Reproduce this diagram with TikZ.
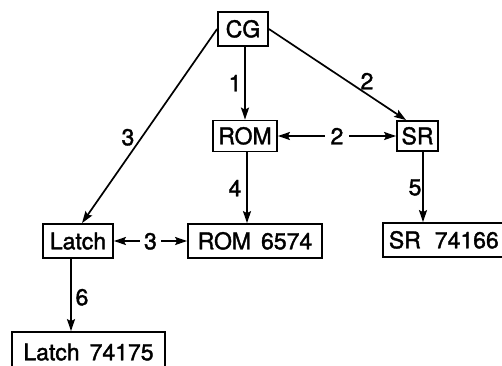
\documentclass[tikz,border=0pt]{standalone}
\usepackage{fontspec}
\setmainfont{TeX Gyre Heros}
\newfontfamily\dfont{TeX Gyre Heros}[UprightFeatures={FakeBold=1.6}]
\usetikzlibrary{arrows.meta,calc}
\begin{document}
\begin{tikzpicture}[x=1pt,y=-1pt,
  box/.style={draw,line width=1.8pt,inner sep=0pt,font=\dfont\fontsize{23}{25}\selectfont,text height=16.5pt,text depth=0pt},
  lbl/.style={font=\dfont\fontsize{23}{25}\selectfont,inner sep=1pt,text height=16.5pt,text depth=0pt},
  tip/.tip={Stealth[length=12pt,width=8pt,inset=2pt]},
  arr/.style={line width=1.7pt,-tip},
  darr/.style={line width=1.7pt,tip-tip}]
\useasboundingbox (0,0) rectangle (502,365);
\clip (0,0) rectangle (502,365);
% boxes
\node[box,minimum width=50pt,minimum height=34pt] (CG) at (243,29) {CG};
\node[box,minimum width=64pt,minimum height=31pt] (ROM) at (245,136) {ROM};
\node[box,minimum width=41pt,minimum height=30pt] (SR) at (417.5,136) {SR};
\node[box,minimum width=70pt,minimum height=34pt] (Latch) at (78,241) {Latch};
\node[box,minimum width=134pt,minimum height=34pt] (R6574) at (255,241) {ROM\hspace{10pt}6574};
\node[box,minimum height=34pt,inner xsep=6pt,anchor=west] (S74166) at (382,240) {SR\hspace{14pt}74166\hspace{10pt}};
\node[box,minimum width=153pt,minimum height=40pt] (L74175) at (88.5,352) {Latch\hspace{10pt}74175};
% helper coordinates
\coordinate (rs) at ($(ROM.south)+(2,0)$);
\coordinate (ss) at ($(SR.south)+(5.5,0)$);
\coordinate (ls) at ($(Latch.south)+(-7,0)$);
% connectors
\draw[arr] (CG.south -| ROM.north) -- (ROM.north);
\draw[arr] (CG.east) -- ($(SR.north west)+(10,0)$);
\draw[arr] (CG.west) -- ($(Latch.north)+(4,0)$);
\draw[darr] (ROM.east) -- (SR.west) node[midway,lbl,fill=white,inner xsep=6pt] (m2) {2};
\draw[arr] (rs) -- (rs |- R6574.north);
\draw[arr] (ss) -- (ss |- S74166.north);
\draw[darr] (Latch.east) -- (R6574.west) node[midway,lbl,fill=white,inner xsep=4pt] (m3) {3};
\draw[arr] (ls) -- (ls |- L74175.north);
% labels
\node[lbl] (l1) at (235,83) {1};
\node[lbl] (l2) at (367,81) {2};
\node[lbl] (l3) at (128,137) {3};
\node[lbl] (l4) at (235,188) {4};
\node[lbl] (l5) at (415,187) {5};
\node[lbl] (l6) at (82,297) {6};
\end{tikzpicture}
\end{document}
